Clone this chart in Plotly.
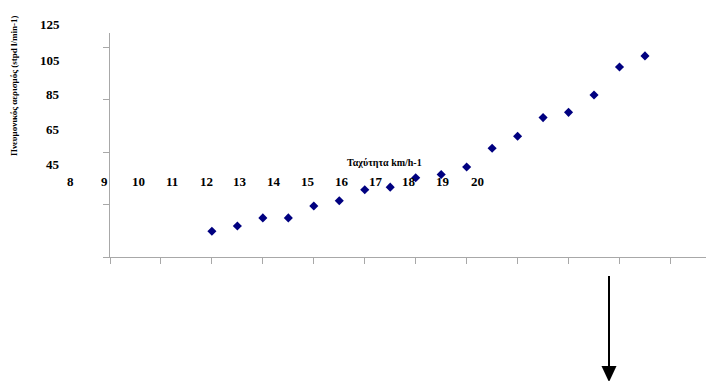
import plotly.graph_objects as go

# Data
speed_kmh = [10, 10.5, 11, 11.5, 12, 12.5, 13, 13.5, 14, 14.5, 15, 15.5, 16, 16.5, 17, 17.5, 18, 18.5]
ventilation = [54.8, 56.8, 59.9, 59.9, 64.4, 66.4, 70.6, 71.6, 75.2, 76.4, 79.3, 86.4, 91.0, 98.1, 100.1, 106.7, 117.4, 121.6]

x_tick_values = [8, 9, 10, 11, 12, 13, 14, 15, 16, 17, 18, 19, 20]
y_tick_values = [45, 65, 85, 105, 125]
x_tick_labels = ["8", "9", "10", "11", "12", "13", "14", "15", "16", "17", "18", "19", "20"]
y_tick_labels = ["125", "105", "85", "65", "45"]

x_title = "Ταχύτητα km/h-1"
y_title = "Πνευμονικός αερισμός (stpd l/min-1)"

OFF = 8  # page body margin
W, H = 714 - OFF, 381 - OFF
L, T = 110 - OFF, 33 - OFF
B = H - (257 - OFF)
PW = W - L
PH = H - T - B


def px(p):
    return (p - OFF - L) / PW


def py(p):
    return (H - B - (p - OFF)) / PH


SERIF = "Liberation Serif, Times New Roman, serif"
AX = "#a8a8a8"

fig = go.Figure()
fig.add_trace(go.Scatter(
    x=speed_kmh, y=ventilation, mode="markers",
    marker=dict(symbol="diamond", size=7, color="#000080"),
    showlegend=False, cliponaxis=False,
))

fig.update_xaxes(
    range=[8, 8 + PW / 50.95], tickvals=x_tick_values, showticklabels=False,
    ticks="outside", ticklen=6, tickcolor=AX, showline=True, linecolor=AX,
    linewidth=1, showgrid=False, zeroline=False,
)
fig.update_yaxes(
    range=[45, 45 + PH / 2.625], tickvals=y_tick_values, showticklabels=False,
    ticks="outside", ticklen=6, tickcolor=AX, showline=True, linecolor=AX,
    linewidth=1, showgrid=False, zeroline=False,
)

ann = []
# detached x labels
x_label_px = [70, 104, 138, 172, 206, 240, 274, 308, 342, 375.5, 409, 443, 477]
for lab, p in zip(x_tick_labels, x_label_px):
    ann.append(dict(x=px(p), y=py(181), xref="paper", yref="paper", text=f"<b>{lab}</b>",
                    showarrow=False, xanchor="center", yanchor="middle",
                    font=dict(family=SERIF, size=13, color="black")))
# detached y labels
y_label_py = [24, 60, 94.5, 129.5, 164.5]
for lab, p in zip(y_tick_labels, y_label_py):
    ann.append(dict(x=px(61.5), y=py(p), xref="paper", yref="paper", text=f"<b>{lab}</b>",
                    showarrow=False, xanchor="right", yanchor="middle",
                    font=dict(family=SERIF, size=13, color="black")))
ann.append(dict(x=px(384), y=py(162), xref="paper", yref="paper", text=f"<b>{x_title}</b>",
                showarrow=False, xanchor="center", yanchor="middle",
                font=dict(family=SERIF, size=10, color="black")))
ann.append(dict(x=px(14), y=py(86), xref="paper", yref="paper", text=f"<b>{y_title}</b>",
                showarrow=False, xanchor="center", yanchor="middle", textangle=-90,
                font=dict(family=SERIF, size=9, color="black")))

shapes = [
    dict(type="line", xref="paper", yref="paper", x0=px(609), x1=px(609), y0=py(276), y1=py(368),
         line=dict(color="black", width=2)),
    dict(type="path", xref="paper", yref="paper",
         path=f"M {px(601.5)},{py(366)} L {px(616.5)},{py(366)} L {px(609)},{py(382)} Z",
         fillcolor="black", line=dict(color="black", width=0)),
]

fig.update_layout(
    width=W, height=H, margin=dict(l=L, r=0, t=T, b=B),
    paper_bgcolor="white", plot_bgcolor="white",
    annotations=ann, shapes=shapes,
)

fig.write_html("out.html")
